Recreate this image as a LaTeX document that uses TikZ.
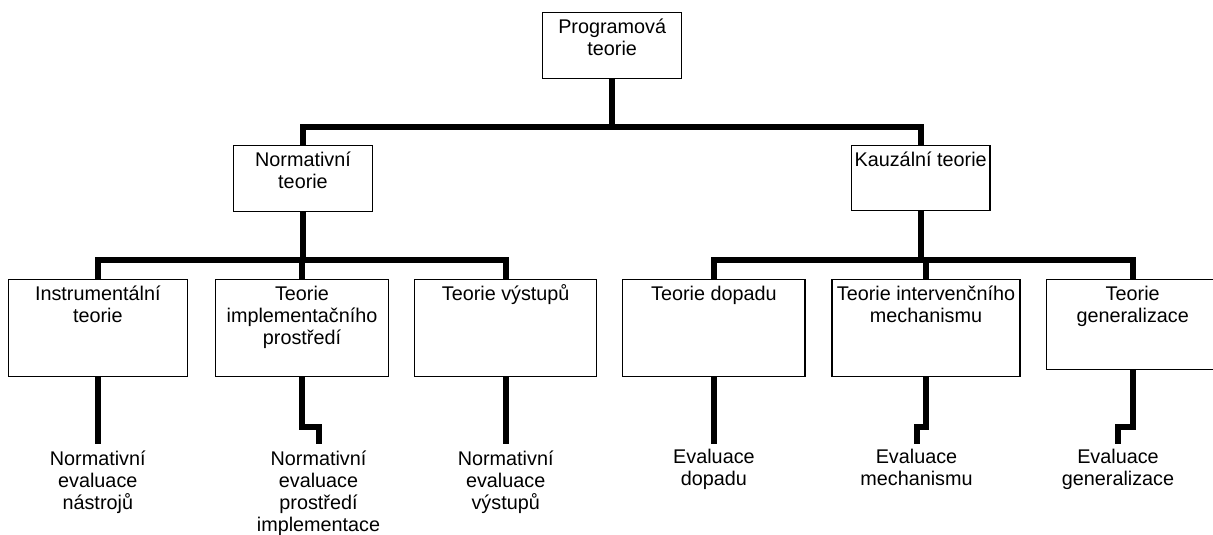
\documentclass[tikz,border=0pt]{standalone}
\usepackage{fontspec}
\setmainfont{Liberation Sans}
\newcommand{\bxt}[3]{\parbox[t][#2][t]{#1}{\centering\rule{0pt}{21pt}#3}}
\begin{document}
\begin{tikzpicture}[x=1pt,y=-1pt,
  font=\fontsize{19.8}{22}\selectfont,
  box/.style={draw=black, line width=1.5pt, fill=white, inner sep=0pt, outer sep=0pt, anchor=north west},
  conn/.style={line width=6pt, line join=miter, line cap=butt},
  leaf/.style={inner sep=0pt, outer sep=0pt, anchor=north, align=center}]
\useasboundingbox (0,0) rectangle (1213,535);
\coordinate (ya) at (0,127);
\coordinate (yb) at (0,260.3);
\coordinate (yl) at (0,444);
% boxes
\node[box] (top) at (542.7,12.7) {\bxt{139pt}{65.6pt}{Programová\\teorie}};
\node[box] (norm) at (233.3,145.7) {\bxt{139.4pt}{65.6pt}{Normativní\\teorie}};
\node[box] (kauz) at (851.3,145.7) {\bxt{138.7pt}{65pt}{Kauzální teorie}};
\node[box] (instr) at (8.3,279.3) {\bxt{179pt}{97.4pt}{Instrumentální\\teorie}};
\node[box] (impl) at (215.3,279.3) {\bxt{173.4pt}{97.4pt}{Teorie\\implementačního\\prostředí}};
\node[box] (vyst) at (414.7,279.3) {\bxt{182pt}{97.4pt}{Teorie výstupů}};
\node[box] (dopad) at (622.7,279.3) {\bxt{182.5pt}{97.4pt}{Teorie dopadu}};
\node[box] (interv) at (832,279.3) {\bxt{188pt}{97.4pt}{Teorie intervenčního\\mechanismu}};
\node[box] (gener) at (1046.7,279.3) {\bxt{172pt}{90pt}{Teorie\\generalizace}};
% leaves
\node[leaf] (ev1) at (instr.south |- yl) {\rule{0pt}{21pt}Normativní\\evaluace\\nástrojů};
\node[leaf] (ev2) at (318.5,444) {\rule{0pt}{21pt}Normativní\\evaluace\\prostředí\\implementace};
\node[leaf] (ev3) at (vyst.south |- yl) {\rule{0pt}{21pt}Normativní\\evaluace\\výstupů};
\node[leaf] (ev4) at (dopad.south |- yl) {\rule{0pt}{19pt}Evaluace\\dopadu};
\node[leaf] (ev5) at (916.5,444) {\rule{0pt}{19pt}Evaluace\\mechanismu};
\node[leaf] (ev6) at (1118,444) {\rule{0pt}{19pt}Evaluace\\generalizace};
% connectors level 1
\draw[conn] (top.south) -- (top.south |- ya);
\draw[conn] (norm.north) |- (top.south |- ya) -| (kauz.north);
% level 2 left
\draw[conn] (norm.south) -- (norm.south |- yb);
\draw[conn] (instr.north) |- (norm.south |- yb) -| (vyst.north);
\draw[conn] (impl.north) -- (impl.north |- yb);
% level 2 right
\draw[conn] (kauz.south) -- (kauz.south |- yb);
\draw[conn] (dopad.north) |- (kauz.south |- yb) -| (gener.north);
\draw[conn] (interv.north) -- (interv.north |- yb);
% leaves
\draw[conn] (instr.south) -- (ev1.north);
\draw[conn] (impl.south) |- ([yshift=17.5pt]ev2.north) -- (ev2.north);
\draw[conn] (vyst.south) -- (ev3.north);
\draw[conn] (dopad.south) -- (ev4.north);
\draw[conn] (interv.south) |- ([yshift=17pt]ev5.north) -- (ev5.north);
\draw[conn] (gener.south) |- ([yshift=17pt]ev6.north) -- (ev6.north);
\end{tikzpicture}
\end{document}
